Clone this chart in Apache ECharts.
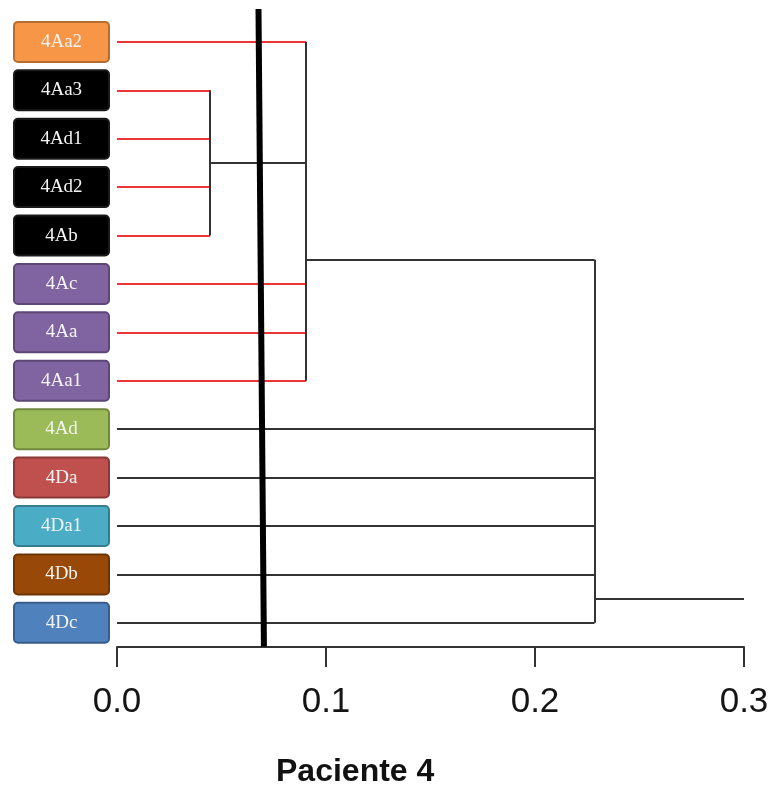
<!DOCTYPE html>
<html>
<head>
<meta charset="utf-8">
<script src="https://cdn.jsdelivr.net/npm/echarts@6/dist/echarts.min.js"></script>
<style>html,body{margin:0;padding:0;background:#fff}#c{width:775px;height:788px}</style>
</head>
<body>
<div id="c"></div>
<script>
// ---- data ----
const leaves = ['4Aa2','4Aa3','4Ad1','4Ad2','4Ab','4Ac','4Aa','4Aa1','4Ad','4Da','4Da1','4Db','4Dc'];
const clusterNames = ['C1','C2','C3'];
const clusterHeights = [0.0445, 0.0905, 0.2285];
const clusterPositions = [2.5, 4.5, 11.5];
const clusterMembers = [
  ['4Aa3','4Ad1','4Ad2','4Ab'],
  ['4Aa2','C1','4Ac','4Aa','4Aa1'],
  ['C2','4Ad','4Da','4Da1','4Db','4Dc']
];
const rootTailEnd = 0.3;
const cutLineX = [0.0677, 0.0703];
const cutLineY = [-0.68, 12.49];
const titleText = 'Paciente 4';

// ---- styles ----
const redClusters = ['C1','C2'];
const boxFill   = ['#F79646','#000000','#000000','#000000','#000000','#8064A2','#8064A2','#8064A2','#9BBB59','#C0504D','#4BACC6','#984807','#4F81BD'];
const boxBorder = ['#B66D31','#1a1a1a','#1a1a1a','#1a1a1a','#1a1a1a','#5C4776','#5C4776','#5C4776','#71893F','#8C3836','#357D91','#6E3405','#385D8A'];
const RED = '#EE3535', BLACK = '#333333';

// ---- build segments ----
const pos = {}, height = {};
leaves.forEach((l, i) => { pos[l] = i; height[l] = 0; });
clusterNames.forEach((c, i) => { pos[c] = clusterPositions[i]; height[c] = clusterHeights[i]; });
const segs = [];
clusterNames.forEach((c, ci) => {
  const h = clusterHeights[ci];
  const mem = clusterMembers[ci];
  const ys = mem.map(m => pos[m]);
  mem.forEach(m => {
    const isLeaf = leaves.indexOf(m) >= 0;
    const col = (isLeaf && redClusters.indexOf(c) >= 0) ? RED : BLACK;
    segs.push({coords: [[height[m], pos[m]], [h, pos[m]]], lineStyle: {color: col}});
  });
  segs.push({coords: [[h, Math.min(...ys)], [h, Math.max(...ys)]], lineStyle: {color: BLACK}});
});
const root = clusterNames[clusterNames.length - 1];
segs.push({coords: [[height[root], pos[root]], [rootTailEnd, pos[root]]], lineStyle: {color: BLACK}});

const rich = {};
leaves.forEach((l, i) => {
  rich['b' + i] = {
    backgroundColor: boxFill[i], borderColor: boxBorder[i], borderWidth: 2, borderRadius: 3,
    width: 93, height: 38, lineHeight: 38, align: 'center', verticalAlign: 'middle',
    color: '#F4F4F4', fontFamily: '"Liberation Serif","DejaVu Serif",serif', fontSize: 19
  };
});

const chart = echarts.init(document.getElementById('c'), null, {renderer: 'canvas'});
chart.setOption({
  animation: false,
  backgroundColor: '#fff',
  title: {
    text: titleText, left: 271, top: 751,
    textStyle: {fontFamily: '"Liberation Sans",Arial,sans-serif', fontWeight: 'bold', fontSize: 32, color: '#111'}
  },
  grid: {left: 117, right: 31, top: 8, bottom: 141, containLabel: false},
  xAxis: {
    type: 'value', min: 0, max: 0.3, interval: 0.1, position: 'bottom',
    splitLine: {show: false},
    axisLine: {show: true, onZero: false, lineStyle: {color: BLACK, width: 2}},
    axisTick: {show: true, length: 20, lineStyle: {color: BLACK, width: 2}},
    axisLabel: {
      margin: 38, fontSize: 35, color: '#151515',
      fontFamily: '"Liberation Sans",Arial,sans-serif',
      formatter: v => v.toFixed(1)
    }
  },
  yAxis: {
    type: 'value', inverse: true, min: -0.7, max: 12.5,
    splitLine: {show: false}, axisLine: {show: false}, axisTick: {show: false},
    axisLabel: {
      show: true, margin: 9, customValues: leaves.map((l, i) => i),
      formatter: v => '{b' + Math.round(v) + '|' + leaves[Math.round(v)] + '}',
      rich: rich
    }
  },
  series: [
    {
      type: 'lines', coordinateSystem: 'cartesian2d', polyline: false, z: 2,
      lineStyle: {width: 2, opacity: 1},
      data: segs, silent: true
    },
    {
      type: 'lines', coordinateSystem: 'cartesian2d', polyline: false, z: 5,
      lineStyle: {width: 6, color: '#000', opacity: 1},
      data: [{coords: [[cutLineX[0], cutLineY[0]], [cutLineX[1], cutLineY[1]]]}], silent: true
    }
  ]
});
</script>
</body>
</html>
